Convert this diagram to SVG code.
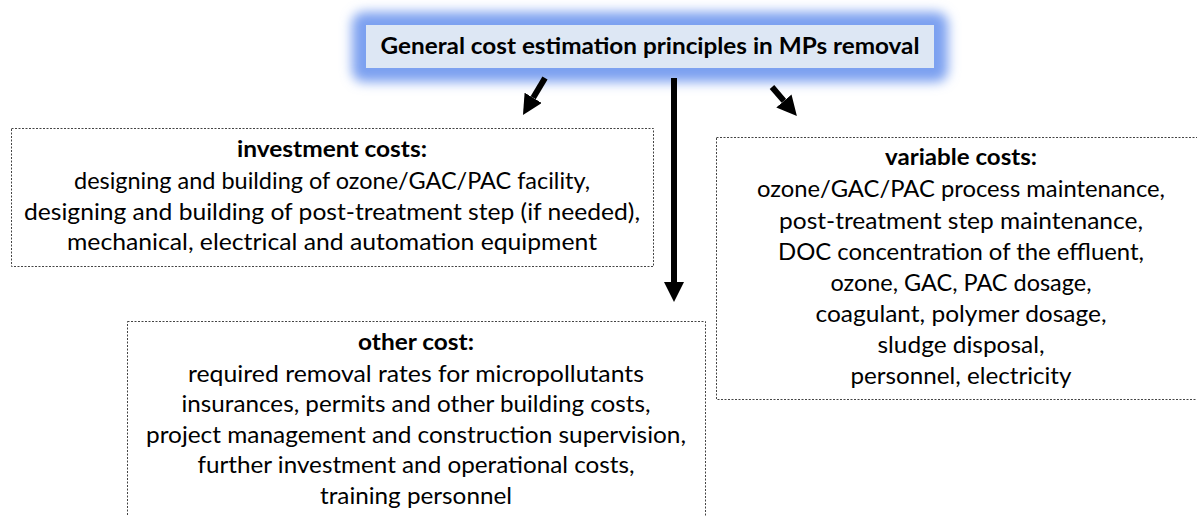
<svg xmlns="http://www.w3.org/2000/svg" width="1197" height="516" viewBox="0 0 1197 516">
<style>
  text { font-family: Lato, "Open Sans", "Liberation Sans", sans-serif; fill: #000; text-anchor: middle; }
  .t { font-size: 23px; }
  .h { font-size: 23px; font-weight: bold; }
  .ti { font-size: 22.5px; font-weight: bold; }
  .box { fill: #fff; stroke: #444; stroke-width: 1; stroke-dasharray: 2 1.5; }
  .conn { stroke: #000; stroke-width: 6; fill: none; marker-end: url(#ah); }
</style>
<defs>
  <filter id="glow" x="-10%" y="-60%" width="120%" height="220%">
    <feGaussianBlur stdDeviation="6"/>
  </filter>
  <marker id="ah" markerUnits="userSpaceOnUse" markerWidth="20" markerHeight="20" refX="0" refY="10" orient="auto" viewBox="0 0 20 20">
    <path d="M0,0 L20,10 L0,20 z" fill="#000"/>
  </marker>
</defs>
<rect width="1197" height="516" fill="#fff"/>

<g id="title">
  <rect x="352" y="12" width="596" height="70" rx="12" fill="#7ba0f0" filter="url(#glow)"/>
  <rect x="366" y="25" width="568" height="43" fill="#dde7f4"/>
  <text class="ti" x="650" y="54" textLength="539" lengthAdjust="spacingAndGlyphs">General cost estimation principles in MPs removal</text>
</g>

<g id="connectors">
  <line class="conn" x1="545" y1="78" x2="533.2" y2="97.8"/>
  <line class="conn" x1="674" y1="78" x2="674" y2="282"/>
  <line class="conn" x1="772" y1="87" x2="783.9" y2="100.9"/>
</g>

<g id="investment">
  <rect class="box" x="11.5" y="128.5" width="642" height="138"/>
  <text class="h" x="332" y="157" textLength="190" lengthAdjust="spacingAndGlyphs">investment costs:</text>
  <text class="t" x="332" y="189" textLength="516" lengthAdjust="spacingAndGlyphs">designing and building of ozone/GAC/PAC facility,</text>
  <text class="t" x="332" y="220" textLength="616" lengthAdjust="spacingAndGlyphs">designing and building of post-treatment step (if needed),</text>
  <text class="t" x="332" y="250" textLength="530" lengthAdjust="spacingAndGlyphs">mechanical, electrical and automation equipment</text>
</g>

<g id="variable">
  <rect class="box" x="716.5" y="137.5" width="490" height="262"/>
  <text class="h" x="961" y="165" textLength="152" lengthAdjust="spacingAndGlyphs">variable costs:</text>
  <text class="t" x="961" y="197" textLength="408" lengthAdjust="spacingAndGlyphs">ozone/GAC/PAC process maintenance,</text>
  <text class="t" x="961" y="229" textLength="364" lengthAdjust="spacingAndGlyphs">post-treatment step maintenance,</text>
  <text class="t" x="961" y="260" textLength="366" lengthAdjust="spacingAndGlyphs">DOC concentration of the effluent,</text>
  <text class="t" x="961" y="291" textLength="261" lengthAdjust="spacingAndGlyphs">ozone, GAC, PAC dosage,</text>
  <text class="t" x="961" y="322" textLength="291" lengthAdjust="spacingAndGlyphs">coagulant, polymer dosage,</text>
  <text class="t" x="961" y="353" textLength="167" lengthAdjust="spacingAndGlyphs">sludge disposal,</text>
  <text class="t" x="961" y="384" textLength="221" lengthAdjust="spacingAndGlyphs">personnel, electricity</text>
</g>

<g id="other">
  <rect class="box" x="127.5" y="321.5" width="578" height="210"/>
  <text class="h" x="416" y="350" textLength="116" lengthAdjust="spacingAndGlyphs">other cost:</text>
  <text class="t" x="416" y="382" textLength="456" lengthAdjust="spacingAndGlyphs">required removal rates for micropollutants</text>
  <text class="t" x="416" y="412" textLength="469" lengthAdjust="spacingAndGlyphs">insurances, permits and other building costs,</text>
  <text class="t" x="416" y="443" textLength="540" lengthAdjust="spacingAndGlyphs">project management and construction supervision,</text>
  <text class="t" x="416" y="473" textLength="437" lengthAdjust="spacingAndGlyphs">further investment and operational costs,</text>
  <text class="t" x="416" y="504" textLength="192" lengthAdjust="spacingAndGlyphs">training personnel</text>
</g>
</svg>
